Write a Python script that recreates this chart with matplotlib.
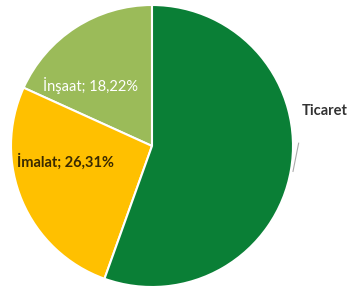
import matplotlib
matplotlib.use('Agg')
import matplotlib.pyplot as plt

sectors = ['İnşaat', 'İmalat', 'Ticaret']
shares = [18.22, 26.31, 55.47]
colors = ['#9BBB59', '#FFC000', '#0A7F36']

plt.rcParams['font.family'] = ['Lato', 'DejaVu Sans']

fig = plt.figure(figsize=(3.51, 2.91), dpi=100)
ax = fig.add_axes([11/351, 4/291, 282/351, 282/291])
ax.pie(shares, colors=colors, startangle=90, counterclock=True,
       wedgeprops=dict(edgecolor='white', linewidth=1.5))
ax.set_xlim(-1, 1)
ax.set_ylim(-1, 1)

def lbl(i):
    return f"{sectors[i]}; {shares[i]:.2f}%".replace('.', ',')

# label placement
ax.text(-0.77, 0.43, lbl(0), color='white', fontsize=10.5, ha='left', va='center')
ax.text(-0.96, -0.11, lbl(1), color='#3a2a00', fontsize=10.5, fontweight='bold',
        ha='left', va='center')
ax.text(1.06, 0.25, sectors[2], color='#333333', fontsize=10.5, fontweight='bold',
        ha='left', va='center', clip_on=False)
ax.plot([1.0, 1.04], [-0.18, 0.02], color='#aaaaaa', lw=0.8, clip_on=False)

fig.savefig('out.png', dpi=100)
